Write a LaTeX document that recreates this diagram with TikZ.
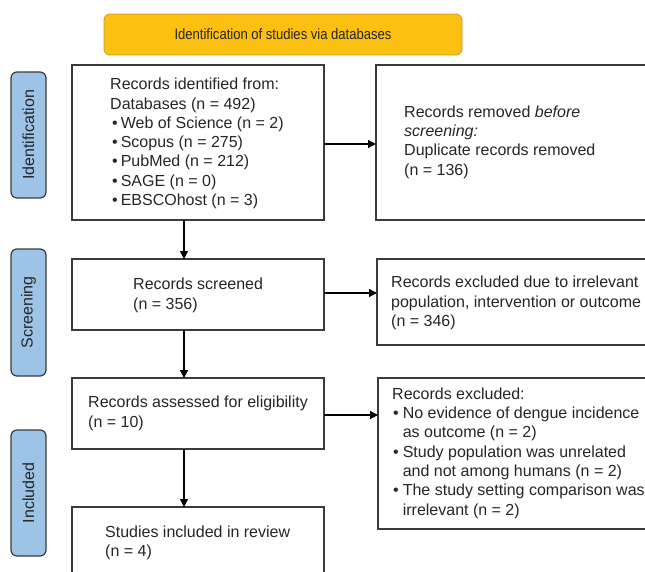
\documentclass[tikz,border=0pt]{standalone}
\usepackage{fontspec}
\setmainfont{Liberation Sans}
\usetikzlibrary{arrows.meta}
\definecolor{tcol}{HTML}{262626}
\definecolor{bordercol}{HTML}{3A3A3A}
\definecolor{titlefill}{HTML}{FBC012}
\definecolor{titleborder}{HTML}{C9982A}
\definecolor{sidefill}{HTML}{9DC3E6}
\begin{document}
\begin{tikzpicture}[x=1pt,y=-1pt,
  box/.style={draw=bordercol, line width=1.2pt, fill=white, inner sep=0pt, outer sep=0pt},
  txt/.style={anchor=west, align=left, inner sep=0pt, text=tcol, font=\fontsize{16}{19.3}\selectfont},
  side/.style={draw=bordercol, line width=1.2pt, fill=sidefill, rounded corners=6pt, inner sep=0pt, outer sep=0pt,
     rotate=90, minimum height=35pt, text=tcol, font=\fontsize{16}{19}\selectfont},
  titlebox/.style={draw=titleborder, line width=0.8pt, fill=titlefill, rounded corners=6pt, inner sep=0pt,
     text=tcol, font=\fontsize{15}{18}\selectfont},
  arr/.style={-{Triangle[length=8pt,width=8pt]}, line width=1.2pt, draw=black}
]
\useasboundingbox (0,0) rectangle (645,571);

% title
\node[titlebox, minimum width=358pt, minimum height=41pt] (title) at (283,34.5) {\scalebox{0.87}[1]{Identification of studies via databases}};

% side labels
\node[side, minimum width=126pt] (lid) at (28.5,135) {Identification};
\node[side, minimum width=127pt] (lscr) at (28.5,312.5) {Screening};
\node[side, minimum width=126pt] (linc) at (28.5,493) {Included};

% left column boxes
\node[box, minimum width=252pt, minimum height=155pt] (ident) at (198,142.5) {};
\node[box, minimum width=252pt, minimum height=71pt] (scr) at (198,294.5) {};
\node[box, minimum width=252pt, minimum height=71pt] (elig) at (198,413.5) {};
\node[box, minimum width=252pt, minimum height=70pt] (incl) at (198,542) {};

% right column boxes
\node[box, minimum width=284pt, minimum height=155pt] (rem) at (518,142.5) {};
\node[box, minimum width=283pt, minimum height=86pt] (exc1) at (518.5,302) {};
\node[box, minimum width=282pt, minimum height=151pt] (exc2) at (519,453.5) {};

% texts
\node[txt] (tident) at (110,143.5) {Records identified from:\\Databases (n = 492)\\
\hspace{2pt}•\hspace{3pt}Web of Science (n = 2)\\
\hspace{2pt}•\hspace{3pt}Scopus (n = 275)\\
\hspace{2pt}•\hspace{3pt}PubMed (n = 212)\\
\hspace{2pt}•\hspace{3pt}SAGE (n = 0)\\
\hspace{2pt}•\hspace{3pt}EBSCOhost (n = 3)};
\node[txt] (trem) at (404,142) {Records removed \textit{before}\\\textit{screening:}\\Duplicate records removed\\(n = 136)};
\node[txt] (tscr) at (133,295.5) {Records screened\\(n = 356)};
\node[txt] (texc1) at (391,303) {Records excluded due to irrelevant\\population, intervention or outcome\\(n = 346)};
\node[txt] (telig) at (88,413.5) {Records assessed for eligibility\\(n = 10)};
\node[txt] (texc2) at (392,453) {Records excluded:\\
\hspace{1pt}•\hspace{4pt}No evidence of dengue incidence\\
\hphantom{\hspace{1pt}•\hspace{4pt}}as outcome (n = 2)\\
\hspace{1pt}•\hspace{4pt}Study population was unrelated\\
\hphantom{\hspace{1pt}•\hspace{4pt}}and not among humans (n = 2)\\
\hspace{1pt}•\hspace{4pt}The study setting comparison was\\
\hphantom{\hspace{1pt}•\hspace{4pt}}irrelevant (n = 2)};
\node[txt] (tincl) at (105,542.5) {Studies included in review\\(n = 4)};

% connectors
\coordinate (ax) at (184,0);
\draw[arr] (ident.south -| ax) -- (scr.north -| ax);
\draw[arr] (scr.south -| ax) -- (elig.north -| ax);
\draw[arr] (elig.south -| ax) -- (incl.north -| ax);
\draw[arr] (ident.east) ++(0,1.5) coordinate (s1) -- (s1 -| rem.west);
\draw[arr] (scr.east) ++(0,-1.5) coordinate (s2) -- (s2 -| exc1.west);
\draw[arr] (elig.east) ++(0,1.5) coordinate (s3) -- (s3 -| exc2.west);
\end{tikzpicture}
\end{document}
